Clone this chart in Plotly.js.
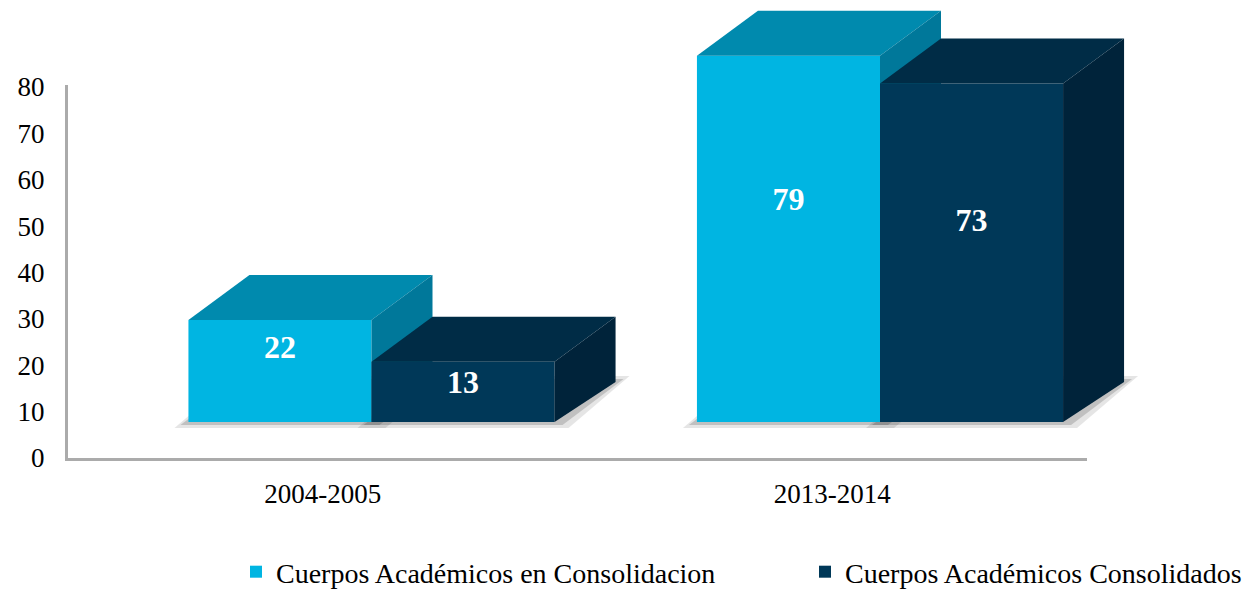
<!DOCTYPE html>
<html>
<head>
<meta charset="utf-8">
<script src="https://cdn.plot.ly/plotly-3.0.1.min.js"></script>
<style>html,body{margin:0;padding:0;background:#fff;}#chart{width:1248px;height:592px;}</style>
</head>
<body>
<div id="chart"></div>
<script>
// ---- data ----
const categories = ['2004-2005', '2013-2014'];
const seriesNames = ['Cuerpos Académicos en Consolidacion', 'Cuerpos Académicos Consolidados'];
const enConsolidacion = [22, 79];
const consolidados = [13, 73];
const yTickValues = [0, 10, 20, 30, 40, 50, 60, 70, 80];

// ---- geometry / style ----
const W = 1248, H = 592;
const mL = 68, mR = 10, mT = 5, mB = 134;
const plotW = W - mL - mR, plotH = H - mT - mB;
const pxX = 508.5;                 // px per category
const pxY = (458 - 87) / 80;       // px per value unit
const barBasePx = 422;             // pixel row of the 3D bar floor
const barW = 0.36;                 // category units
const dx = 61 / pxX, dyT = 45 / pxY, dyB = 40 / pxY;

const x2lo = -((371.5 - mL) / pxX);
const x2range = [x2lo, x2lo + plotW / pxX];
const y2lo = -(H - mB - barBasePx) / pxY;
const y2range = [y2lo, y2lo + plotH / pxY];

const colors = {
  cyan: {front: '#00B5E2', top: '#008AAE', side: '#00789A'},
  dark: {front: '#003858', top: '#002C46', side: '#00233A'}
};

const idx = categories.map((c, i) => i);

function faces(values, left, col, ax) {
  const tr = [];
  values.forEach((v, i) => {
    const xl = idx[i] + left, xr = xl + barW;
    tr.push({type: 'scatter', mode: 'lines', fill: 'toself', xaxis: ax.x, yaxis: ax.y,
      x: [xl, xl + dx, xr + dx, xr, xl], y: [v, v + dyT, v + dyT, v, v],
      fillcolor: col.top, line: {width: 0, color: col.top}, hoverinfo: 'skip', showlegend: false});
    tr.push({type: 'scatter', mode: 'lines', fill: 'toself', xaxis: ax.x, yaxis: ax.y,
      x: [xr, xr + dx, xr + dx, xr, xr], y: [0, dyB, v + dyT, v, 0],
      fillcolor: col.side, line: {width: 0, color: col.side}, hoverinfo: 'skip', showlegend: false});
  });
  return tr;
}

function shadows(values, left, ax) {
  const tr = [];
  values.forEach((v, i) => {
    const xl = idx[i] + left, xr = xl + barW;
    [[14, 6, 'rgba(0,0,0,0.10)'], [8, 3, 'rgba(0,0,0,0.16)']].forEach(([sx, sy, c]) => {
      const ox = sx / pxX, oy = sy / pxY;
      tr.push({type: 'scatter', mode: 'lines', fill: 'toself', xaxis: ax.x, yaxis: ax.y,
        x: [xl - ox, xl + dx - ox, xr + dx + ox, xr + ox, xl - ox],
        y: [-oy, dyB + oy, dyB + oy, -oy, -oy],
        fillcolor: c, line: {width: 0, color: c}, hoverinfo: 'skip', showlegend: false});
    });
  });
  return tr;
}

const labelFont = {family: 'Liberation Serif, serif', size: 32, color: '#FFFFFF', weight: 'bold'};

const traces = [];
// main axes holder (invisible)
traces.push({type: 'scatter', mode: 'markers', x: categories, y: [0, 0], marker: {opacity: 0},
  hoverinfo: 'skip', showlegend: false, xaxis: 'x', yaxis: 'y'});
// shadows
traces.push(...shadows(enConsolidacion, -barW, {x: 'x2', y: 'y2'}));
traces.push(...shadows(consolidados, 0, {x: 'x2', y: 'y2'}));
// cyan series
traces.push({type: 'bar', name: seriesNames[0], x: idx, y: enConsolidacion, xaxis: 'x3', yaxis: 'y3',
  width: barW, offset: -barW, marker: {color: colors.cyan.front, line: {width: 0}}, hoverinfo: 'skip',
  legend: 'legend'});
traces.push(...faces(enConsolidacion, -barW, colors.cyan, {x: 'x3', y: 'y3'}));
// dark series
traces.push({type: 'bar', name: seriesNames[1], x: idx, y: consolidados, xaxis: 'x4', yaxis: 'y4',
  width: barW, offset: 0, marker: {color: colors.dark.front, line: {width: 0}}, hoverinfo: 'skip',
  legend: 'legend2'});
traces.push(...faces(consolidados, 0, colors.dark, {x: 'x4', y: 'y4'}));
// value labels (placed on the 3D bar body)
traces.push({type: 'scatter', mode: 'text', xaxis: 'x4', yaxis: 'y4', showlegend: false, hoverinfo: 'skip',
  x: idx.map(i => i - barW / 2), y: enConsolidacion.map(v => v * 0.56 + 3.2),
  text: enConsolidacion.map(String), textfont: labelFont});
traces.push({type: 'scatter', mode: 'text', xaxis: 'x4', yaxis: 'y4', showlegend: false, hoverinfo: 'skip',
  x: idx.map(i => i + barW / 2), y: consolidados.map(v => v * 0.58 + 0.5),
  text: consolidados.map(String), textfont: labelFont});

const hidden = (anchor, range) => ({visible: false, domain: [0, 1], range: range,
  anchor: anchor, fixedrange: true, showgrid: false, zeroline: false});

const legendFont = {family: 'Liberation Serif, serif', size: 28, color: '#000'};
const legendBase = {orientation: 'h', xref: 'container', yref: 'container', xanchor: 'left', yanchor: 'middle',
  y: 1 - 572 / H, font: legendFont, bgcolor: 'rgba(0,0,0,0)', itemclick: false, itemdoubleclick: false};

const layout = {
  width: W, height: H,
  margin: {l: mL, r: mR, t: mT, b: mB, autoexpand: false},
  paper_bgcolor: '#FFFFFF', plot_bgcolor: 'rgba(0,0,0,0)',
  font: {family: 'Liberation Serif, serif', color: '#000000'},
  showlegend: true,
  xaxis: {type: 'category', domain: [0, (1087 - mL) / plotW], range: [-0.5, 1.5],
    showline: true, linecolor: '#ABABAB', linewidth: 3, showgrid: false, zeroline: false,
    ticks: '', tickfont: {family: 'Liberation Serif, serif', size: 27, color: '#000'},
    ticklabelstandoff: 10, anchor: 'y', fixedrange: true},
  yaxis: {domain: [0, (458 - 85) / plotH], range: [0, 80 * (458 - 85) / (458 - 87)],
    tickvals: yTickValues, showline: true, linecolor: '#ABABAB', linewidth: 3, showgrid: false,
    zeroline: false, ticks: '', tickfont: {family: 'Liberation Serif, serif', size: 27, color: '#000'},
    ticklabelstandoff: 15, anchor: 'x', fixedrange: true},
  xaxis2: hidden('y2', x2range), yaxis2: hidden('x2', y2range),
  xaxis3: hidden('y3', x2range), yaxis3: hidden('x3', y2range),
  xaxis4: hidden('y4', x2range), yaxis4: hidden('x4', y2range),
  legend: Object.assign({}, legendBase, {x: 236 / W}),
  legend2: Object.assign({}, legendBase, {x: 805 / W}),
  hovermode: false
};

Plotly.newPlot('chart', traces, layout, {displayModeBar: false, staticPlot: true});
</script>
</body>
</html>
